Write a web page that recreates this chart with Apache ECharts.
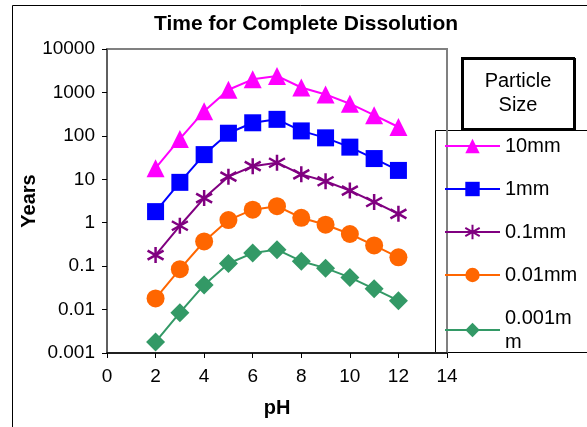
<!DOCTYPE html>
<html><head><meta charset="utf-8">
<script src="https://cdn.jsdelivr.net/npm/echarts@6/dist/echarts.min.js"></script>
<style>html,body{margin:0;padding:0;background:#fff}#c{width:587px;height:427px}</style>
</head><body><div id="c"></div>
<script>
const pH = [2, 3, 4, 5, 6, 7, 8, 9, 10, 11, 12];
const s10mm = [18, 85, 370, 1150, 2000, 2400, 1300, 900, 550, 300, 160];
const s1mm = [1.8, 8.5, 37, 115, 200, 240, 130, 90, 55, 30, 16];
const s01mm = [0.18, 0.85, 3.7, 11.5, 20, 24, 13, 9, 5.5, 3, 1.6];
const s001mm = [0.018, 0.085, 0.37, 1.15, 2.0, 2.4, 1.3, 0.9, 0.55, 0.3, 0.16];
const s0001mm = [0.0018, 0.0085, 0.037, 0.115, 0.2, 0.24, 0.13, 0.09, 0.055, 0.03, 0.016];
const yTicks = ['0.001', '0.01', '0.1', '1', '10', '100', '1000', '10000'];
const xTicks = [0, 2, 4, 6, 8, 10, 12, 14];

const FONT = 'Liberation Sans, Arial, sans-serif';
const star = 'path://M8,0L8,16M1,3.5L15,12.5M1,12.5L15,3.5';
function mk(name, vals, color, symbol, size, extra) {
  return Object.assign({
    name, type: 'line', data: pH.map((x, i) => [x, vals[i]]),
    symbol, symbolSize: size, showSymbol: true,
    lineStyle: { color, width: 2 },
    itemStyle: { color, borderColor: color, borderWidth: 0 },
    emphasis: { disabled: true }
  }, extra || {});
}
const chart = echarts.init(document.getElementById('c'), null, { renderer: 'canvas' });
chart.setOption({
  animation: false,
  backgroundColor: '#fff',
  textStyle: { fontFamily: FONT },
  title: {
    text: 'Time for Complete Dissolution', left: 301, textAlign: 'center', top: 9,
    textStyle: { fontSize: 21, fontWeight: 'bold', color: '#000', fontFamily: FONT }
  },
  grid: { left: 107, right: 140, top: 49, bottom: 74, show: true, borderColor: '#808080', borderWidth: 2, backgroundColor: 'transparent' },
  xAxis: {
    type: 'value', min: 0, max: 14, interval: 2,
    name: 'pH', nameLocation: 'middle', nameGap: 45,
    nameTextStyle: { fontSize: 20, fontWeight: 'bold', color: '#000', fontFamily: FONT },
    axisLine: { show: true, lineStyle: { color: '#000', width: 1.5 } },
    axisTick: { show: true, length: 5, lineStyle: { color: '#000' } },
    axisLabel: { fontSize: 19, color: '#000', margin: 14, fontFamily: FONT, formatter: v => xTicks.includes(v) ? String(v) : '' },
    splitLine: { show: false }
  },
  yAxis: {
    type: 'log', logBase: 10, min: 0.001, max: 10000,
    name: 'Years', nameLocation: 'middle', nameGap: 68, nameMoveOverlap: false,
    nameTextStyle: { fontSize: 20, fontWeight: 'bold', color: '#000', fontFamily: FONT },
    axisLine: { show: true, lineStyle: { color: '#555', width: 1.5 } },
    axisTick: { show: true, length: 5, lineStyle: { color: '#000' } },
    axisLabel: { fontSize: 19, color: '#000', margin: 12, fontFamily: FONT,
      formatter: v => { const i = Math.round(Math.log10(v)) + 3; return yTicks[i] || ''; } },
    splitLine: { show: false }
  },
  legend: {
    orient: 'vertical', left: 439, top: 129, itemWidth: 55, itemHeight: 18, itemGap: 19,
    textStyle: { fontSize: 20, color: '#000', fontFamily: FONT, lineHeight: 24 },
    formatter: n => n === '0.001mm' ? '0.001m\nm' : n,
    data: ['10mm', '1mm', '0.1mm', '0.01mm', '0.001mm']
  },
  graphic: [
    { type: 'rect', shape: { x: 12.5, y: 5.5, width: 700, height: 500 }, style: { fill: 'none', stroke: '#000', lineWidth: 1 }, z: -10 },
    { type: 'rect', shape: { x: 435.5, y: 130.5, width: 200, height: 222 }, style: { fill: '#fff', stroke: '#000', lineWidth: 1 }, z: -1 },
    { type: 'rect', shape: { x: 462, y: 58, width: 112, height: 71 }, style: { fill: '#fff', stroke: '#000', lineWidth: 2, shadowColor: '#000', shadowOffsetX: 1, shadowOffsetY: 1 }, z: 5 },
    { type: 'text', x: 518, y: 93.5, style: { text: 'Particle\nSize', fill: '#000', font: '20px ' + FONT, textAlign: 'center', textVerticalAlign: 'middle', lineHeight: 24 }, z: 6 }
  ],
  series: [
    mk('10mm', s10mm, '#FF00FF', 'triangle', 18),
    mk('1mm', s1mm, '#0000FF', 'rect', 17),
    mk('0.1mm', s01mm, '#800080', star, 16, { itemStyle: { color: '#800080', borderColor: '#800080', borderWidth: 2.5 } }),
    mk('0.01mm', s001mm, '#FF6600', 'circle', 18),
    mk('0.001mm', s0001mm, '#339966', 'diamond', 19)
  ]
});
</script></body></html>
